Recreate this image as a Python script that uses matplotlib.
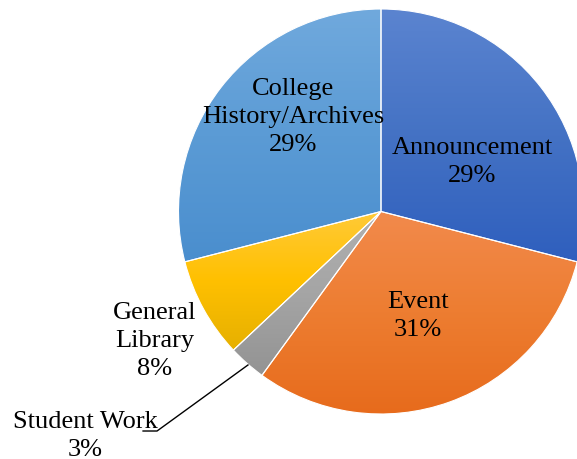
import numpy as np
import matplotlib.pyplot as plt
from matplotlib.colors import LinearSegmentedColormap

categories = ['Announcement', 'Event', 'Student Work', 'General Library', 'College History/Archives']
shares = [29, 31, 3, 8, 29]
label_text = ['Announcement\n29%', 'Event\n31%', 'Student Work\n3%',
              'General\nLibrary\n8%', 'College\nHistory/Archives\n29%']

# gradient stops per slice: top, middle, bottom
grads = [
    ('#5b84d0', '#4472c4', '#2f5fbe'),
    ('#f28a4c', '#ed7d31', '#e76b1c'),
    ('#b0b0b0', '#a5a5a5', '#939393'),
    ('#ffca38', '#ffc000', '#e6b000'),
    ('#70a9dd', '#5b9bd5', '#4a8ece'),
]

# label centres in axes data units (pie radius = 1)
label_pos = [(0.449, 0.249), (0.183, -0.511), (-1.462, -1.104),
             (-1.116, -0.635), (-0.435, 0.472)]

plt.rcParams['font.family'] = ['Liberation Serif', 'DejaVu Serif']

fig = plt.figure(figsize=(5.77, 4.60), dpi=100)
R = 202.5
cx, cy = 381, 212.5
ax = fig.add_axes([(cx - R) / 577, (460 - cy - R) / 460, 2 * R / 577, 2 * R / 460])
ax.set_xlim(-1, 1)
ax.set_ylim(-1, 1)
ax.set_aspect('equal')
ax.axis('off')

wedges, _ = ax.pie(shares, startangle=90, counterclock=False, radius=1,
                   wedgeprops=dict(linewidth=0))

grad = np.linspace(0, 1, 256).reshape(-1, 1)
for w, stops in zip(wedges, grads):
    w.set_facecolor('none')
    bb = w.get_path().get_extents()
    cmap = LinearSegmentedColormap.from_list('g', list(stops))
    im = ax.imshow(grad, cmap=cmap, aspect='auto', origin='upper',
                   extent=[bb.x0, bb.x1, bb.y0, bb.y1], zorder=1)
    im.set_clip_path(w)
    w.set_edgecolor('white')
    w.set_linewidth(0.8)
    w.set_zorder(2)

ax.set_xlim(-1, 1)
ax.set_ylim(-1, 1)

for txt, (x, y) in zip(label_text, label_pos):
    ax.text(x, y, txt, ha='center', va='center', fontsize=19,
            linespacing=1.33, color='black', zorder=5)

# leader line for the small slice
ax.plot([-0.657, -1.106, -1.175], [-0.758, -1.084, -1.084], color='black',
        linewidth=1, clip_on=False, zorder=4)

fig.savefig('out.png', dpi=100)
